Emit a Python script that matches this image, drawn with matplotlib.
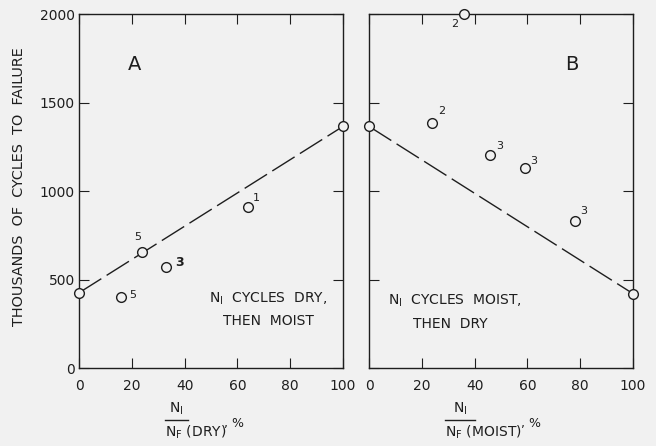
import matplotlib.pyplot as plt
from matplotlib.lines import Line2D

plt.rcParams['font.family'] = 'DejaVu Sans'
plt.rcParams['mathtext.fontset'] = 'dejavusans'

# panel A: N1 cycles dry, then moist
a_line_x = [0, 100]
a_line_y = [425, 1365]
a_x = [16, 24, 33, 64]
a_y = [400, 655, 568, 910]
a_lab = ['5', '5', '3', '1']

# panel B: N1 cycles moist, then dry
b_line_x = [0, 100]
b_line_y = [1365, 420]
b_x = [36, 24, 46, 59, 78]
b_y = [2000, 1384, 1203, 1130, 830]
b_lab = ['2', '2', '3', '3', '3']

xticks = [0, 20, 40, 60, 80, 100]
yticks = [0, 500, 1000, 1500, 2000]

bg = '#f1f1f1'
ink = '#1e1e1e'

fig = plt.figure(figsize=(6.56, 4.46), dpi=100, facecolor=bg)
axA = fig.add_axes([79/656, 1-368/446, 264/656, 354/446])
axB = fig.add_axes([369/656, 1-368/446, 264/656, 354/446])

def style(ax):
    ax.set_facecolor(bg)
    ax.set_xlim(0, 100)
    ax.set_ylim(0, 2000)
    ax.set_xticks(xticks)
    ax.set_yticks(yticks)
    for s in ax.spines.values():
        s.set_color(ink)
        s.set_linewidth(1.0)
    ax.tick_params(direction='in', length=7, width=0.8, color=ink,
                   top=True, right=True, labelsize=10, labelcolor=ink)
    ax.tick_params(axis='x', pad=8)

style(axA)
style(axB)
axA.tick_params(axis='y', pad=3)
axB.set_yticklabels([])

mk = dict(marker='o', ms=7, mfc=bg, mec=ink, mew=1.0, ls='none', clip_on=False, zorder=5)
dash = dict(color=ink, lw=1.0, dashes=(19, 4.5), zorder=3)

axA.plot(a_line_x, a_line_y, **dash)
axA.plot(a_line_x, a_line_y, **mk)
axA.plot(a_x, a_y, **mk)
axB.plot(b_line_x, b_line_y, **dash)
axB.plot(b_line_x, b_line_y, **mk)
axB.plot(b_x, b_y, **mk)

a_off = [(8.6, 1.4), (-3.6, 10.8), (9.4, 3.6), (5.8, 6.5)]
for x, y, t, o in zip(a_x, a_y, a_lab, a_off):
    bold = 'bold' if o == (9.4, 3.6) else 'normal'
    axA.annotate(t, (x, y), xytext=o, textcoords='offset points', ha='center', va='center',
                 fontsize=9 if bold == 'bold' else 8, fontweight=bold, color=ink)
b_off = [(-6.5, -7.2), (6.5, 8.6), (6.5, 6.5), (6.5, 5), (6.5, 7.2)]
for x, y, t, o in zip(b_x, b_y, b_lab, b_off):
    axB.annotate(t, (x, y), xytext=o, textcoords='offset points', ha='center', va='center',
                 fontsize=8, color=ink, annotation_clip=False)

axA.text(0.21, 0.857, 'A', transform=axA.transAxes, fontsize=14, color=ink, ha='center', va='center')
axB.text(0.77, 0.857, 'B', transform=axB.transAxes, fontsize=14, color=ink, ha='center', va='center')

axA.text(0.716, 0.165, 'N$_{\\mathrm{I}}$  CYCLES  DRY,\nTHEN  MOIST', transform=axA.transAxes,
         fontsize=10, color=ink, ha='center', va='center', linespacing=1.6)
axB.text(0.072, 0.19, 'N$_{\\mathrm{I}}$  CYCLES  MOIST,', transform=axB.transAxes,
         fontsize=10, color=ink, ha='left', va='center')
axB.text(0.167, 0.125, 'THEN  DRY', transform=axB.transAxes,
         fontsize=10, color=ink, ha='left', va='center')

fig.text(19/656, 1-187/446, 'THOUSANDS  OF  CYCLES  TO  FAILURE', rotation=90,
         fontsize=10.4, color=ink, ha='center', va='center')

# fraction-style x labels
def frac(x0, x1, den, xs):
    fig.text((x0+x1)/2/656, 1-409/446, 'N$_{\\mathrm{I}}$', fontsize=10, color=ink, ha='center', va='center')
    fig.add_artist(Line2D([x0/656, x1/656], [1-420/446, 1-420/446], color=ink, lw=1.0))
    fig.text(x0/656, 1-432/446, 'N$_{\\mathrm{F}}$' + den, fontsize=10, color=ink, ha='left', va='center')
    fig.text(xs/656, 1-424/446, ', %', fontsize=9, color=ink, ha='left', va='center')

frac(165, 188, ' (DRY)', 224)
frac(445, 475, ' (MOIST)', 521)

fig.savefig('out.png', dpi=100, facecolor=bg)
